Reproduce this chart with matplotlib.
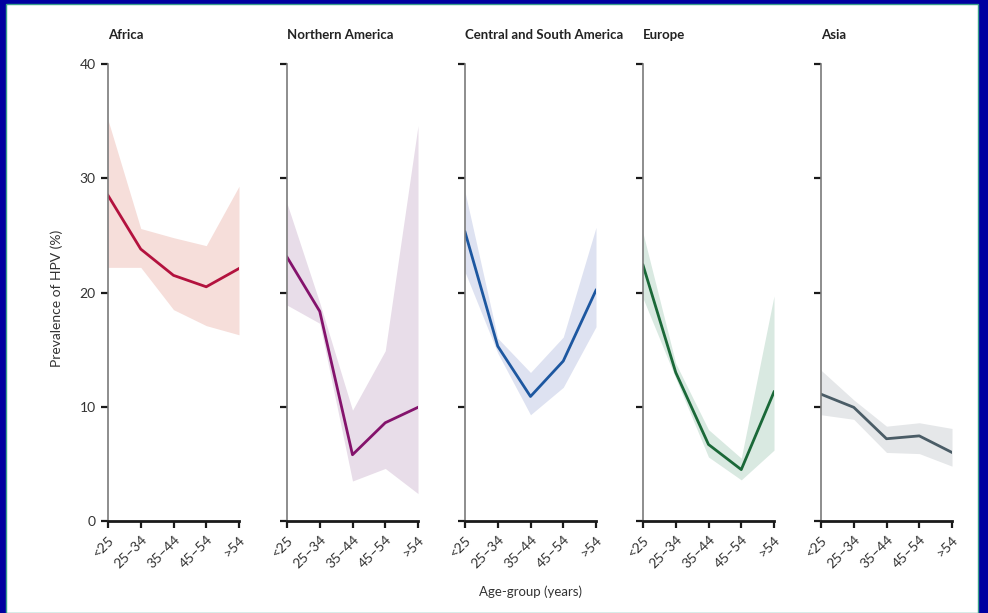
import matplotlib
matplotlib.use('Agg')
from matplotlib import pyplot as plt
from matplotlib.patches import Rectangle

plt.rcParams['font.family'] = ['Lato', 'DejaVu Sans']

age_groups = ['<25', '25–34', '35–44', '45–54', '>54']
regions = ['Africa', 'Northern America', 'Central and South America', 'Europe', 'Asia']

africa_mean = [28.5, 23.8, 21.5, 20.5, 22.1]
africa_hi = [35.1, 25.6, 24.8, 24.1, 29.3]
africa_lo = [22.2, 22.2, 18.5, 17.1, 16.3]

namerica_mean = [23.1, 18.35, 5.8, 8.6, 9.95]
namerica_hi = [27.8, 19.1, 9.7, 14.9, 34.6]
namerica_lo = [18.9, 17.3, 3.5, 4.6, 2.4]

csamerica_mean = [25.3, 15.3, 10.9, 14.0, 20.2]
csamerica_hi = [28.8, 16.0, 13.0, 16.1, 25.7]
csamerica_lo = [21.8, 14.7, 9.3, 11.7, 17.0]

europe_mean = [22.4, 13.0, 6.7, 4.5, 11.3]
europe_hi = [25.2, 13.8, 8.0, 5.5, 19.7]
europe_lo = [19.5, 12.5, 5.6, 3.6, 6.2]

asia_mean = [11.1, 9.95, 7.2, 7.45, 6.0]
asia_hi = [13.2, 10.6, 8.3, 8.6, 8.1]
asia_lo = [9.3, 8.9, 6.0, 5.9, 4.8]

means = [africa_mean, namerica_mean, csamerica_mean, europe_mean, asia_mean]
highs = [africa_hi, namerica_hi, csamerica_hi, europe_hi, asia_hi]
lows = [africa_lo, namerica_lo, csamerica_lo, europe_lo, asia_lo]
line_colors = ['#B3123E', '#84136C', '#1D57A0', '#1A6838', '#4A5C66']
fill_colors = ['#F6DEDA', '#E8DDE9', '#DEE2F1', '#D9E9E1', '#E5E7E9']

W, H = 988, 613
fig = plt.figure(figsize=(W / 100, H / 100), dpi=100)
fig.patch.set_facecolor('#0000A0')
bg = Rectangle((6 / W, 0), (978 - 6) / W, (H - 4) / H,
               transform=fig.transFigure, facecolor='white',
               edgecolor='#3AA08A', linewidth=1, zorder=-10)
fig.patches.append(bg)

lefts = [108, 287, 465, 643, 821]
pw = 131
bottom = 1 - 521 / H
height = (521 - 64) / H
x = list(range(len(age_groups)))

for i, name in enumerate(regions):
    ax = fig.add_axes([lefts[i] / W, bottom, pw / W, height])
    ax.patch.set_alpha(0)
    ax.fill_between(x, lows[i], highs[i], color=fill_colors[i], linewidth=0)
    ax.plot(x, means[i], color=line_colors[i], linewidth=2)
    ax.set_xlim(0, 4)
    ax.set_ylim(0, 40)
    ax.set_yticks([0, 10, 20, 30, 40])
    ax.set_xticks(x)
    ax.set_xticklabels(age_groups, rotation=45, ha='right', rotation_mode='anchor',
                       fontsize=10, color='#333333')
    if i == 0:
        ax.set_yticklabels(['0', '10', '20', '30', '40'], fontsize=10, color='#333333')
    else:
        ax.set_yticklabels([])
    for s in ['top', 'right']:
        ax.spines[s].set_visible(False)
    ax.spines['left'].set_color('#7a7a7a')
    ax.spines['left'].set_linewidth(1.2)
    ax.spines['bottom'].set_color('#1a1a1a')
    ax.spines['bottom'].set_linewidth(2)
    ax.tick_params(axis='y', length=5, width=1.6, color='#1a1a1a', pad=4)
    ax.tick_params(axis='x', length=5, width=1.6, color='#1a1a1a', pad=4)
    ax.set_title(name, loc='left', fontsize=9.5, fontweight='bold', color='#222222', pad=18)

fig.text(57 / W, 1 - 298 / H, 'Prevalence of HPV (%)', rotation=90, ha='center', va='center',
         fontsize=10, color='#333333')
fig.text(530 / W, 1 - 592 / H, 'Age-group (years)', ha='center', va='center',
         fontsize=9.5, color='#333333')

fig.savefig('out.png', dpi=100, facecolor=fig.get_facecolor())
